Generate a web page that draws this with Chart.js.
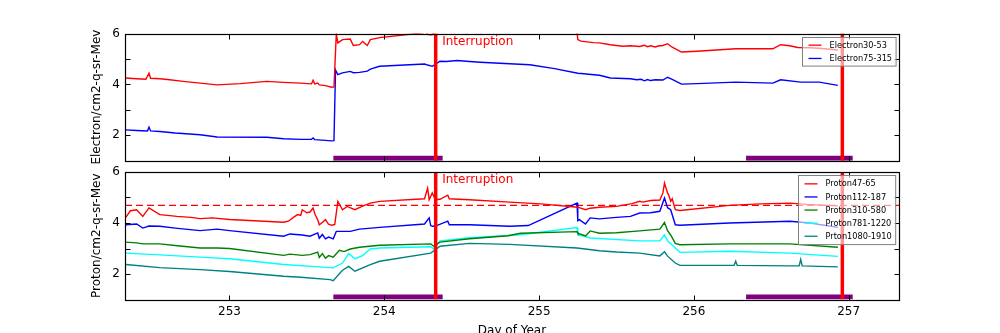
<!DOCTYPE html>
<html>
<head>
<meta charset="utf-8">
<script src="https://cdn.jsdelivr.net/npm/chart.js@4.4.1/dist/chart.umd.min.js"></script>
<style>
  html, body { margin: 0; padding: 0; background: #fff; overflow: hidden; }
  #topBox { position: absolute; left: 0; top: 0; width: 1000px; height: 166px; }
  #botBox { position: absolute; left: 0; top: 166px; width: 1000px; height: 180px; }
</style>
</head>
<body>
<div id="topBox"><canvas id="topChart"></canvas></div>
<div id="botBox"><canvas id="botChart"></canvas></div>
<script>
// axes
const X_MIN = 252.325, X_MAX = 257.325;
const xTicks = [253, 254, 255, 256, 257];
const yTicks = [1, 2, 3, 4, 5, 6];
const yLabels = [2, 4, 6];

// markers
const interruptDays = [254.332, 256.959];
const purpleSpans = [[253.671, 254.377], [256.337, 257.026]];
const purpleLevel = 1.1;
const protonLimit = 4.69;

// electron series [day, value]
const elec3053 = [
  [252.33,4.25],[252.40,4.22],[252.46,4.20],[252.48,4.44],[252.49,4.24],[252.55,4.22],[252.60,4.19],
  [252.70,4.12],[252.81,4.05],[252.92,3.98],[253.07,4.03],[253.24,4.12],[253.35,4.08],[253.46,4.05],
  [253.53,4.02],[253.54,4.16],[253.55,4.02],[253.57,4.05],[253.58,3.98],[253.62,3.95],[253.66,3.89],
  [253.675,3.90],[253.69,5.98],[253.70,5.63],[253.73,5.76],[253.78,5.78],[253.80,5.53],[253.84,5.56],
  [253.86,5.69],[253.89,5.53],[253.91,5.76],[253.97,5.84],[254.24,6.02],[254.27,6.06],[254.28,5.96],
  [254.31,5.95],[254.33,6.10],[254.40,6.40],[255.00,6.50],[255.24,6.40],[255.25,5.76],[255.27,5.70],
  [255.31,5.67],[255.35,5.64],[255.39,5.63],[255.46,5.56],[255.54,5.50],[255.59,5.52],[255.65,5.49],
  [255.68,5.54],[255.70,5.48],[255.72,5.52],[255.75,5.47],[255.77,5.51],[255.80,5.53],[255.83,5.60],
  [255.86,5.46],[255.92,5.27],[256.02,5.30],[256.27,5.40],[256.51,5.40],[256.56,5.56],[256.62,5.52],
  [256.67,5.45],[256.75,5.44],[256.81,5.42],[256.93,5.35]
];
const elec75315 = [
  [252.33,2.21],[252.40,2.19],[252.47,2.17],[252.48,2.32],[252.49,2.17],[252.55,2.15],[252.65,2.09],
  [252.81,2.02],[252.92,1.93],[253.24,1.92],[253.35,1.86],[253.46,1.84],[253.53,1.84],[253.54,1.89],
  [253.55,1.83],[253.62,1.80],[253.66,1.78],[253.675,1.79],[253.685,4.57],[253.70,4.38],[253.73,4.45],
  [253.78,4.51],[253.80,4.46],[253.84,4.47],[253.89,4.52],[253.91,4.60],[253.97,4.71],[254.26,4.80],
  [254.28,4.76],[254.31,4.71],[254.36,4.91],[254.40,4.90],[254.47,4.94],[254.55,4.90],[254.62,4.87],
  [254.81,4.81],[254.94,4.77],[255.10,4.62],[255.25,4.44],[255.29,4.42],[255.32,4.40],[255.39,4.36],
  [255.46,4.25],[255.59,4.22],[255.63,4.18],[255.66,4.20],[255.68,4.14],[255.70,4.19],[255.72,4.15],
  [255.75,4.18],[255.80,4.17],[255.83,4.28],[255.86,4.20],[255.92,4.01],[256.02,4.03],[256.27,4.09],
  [256.51,4.05],[256.56,4.18],[256.69,4.09],[256.81,4.09],[256.93,3.96]
];

// proton series [day, value]
const prot4765 = [
  [252.33,4.22],[252.36,4.48],[252.40,4.52],[252.44,4.26],[252.48,4.59],[252.55,4.33],[252.60,4.30],
  [252.66,4.26],[252.75,4.22],[252.81,4.17],[252.89,4.20],[253.00,4.14],[253.35,4.03],[253.38,4.07],
  [253.42,4.25],[253.44,4.33],[253.46,4.30],[253.47,4.52],[253.50,4.40],[253.52,4.43],[253.54,4.59],
  [253.555,4.30],[253.57,4.13],[253.58,3.93],[253.60,4.02],[253.62,4.13],[253.64,3.95],[253.66,3.91],
  [253.68,3.94],[253.70,4.85],[253.73,4.52],[253.76,4.65],[253.81,4.52],[253.86,4.66],[253.91,4.78],
  [253.97,4.85],[254.26,4.95],[254.28,5.37],[254.29,4.91],[254.31,5.18],[254.33,4.91],[254.36,4.93],
  [254.41,5.09],[254.42,4.95],[254.55,4.91],[254.81,4.82],[255.01,4.75],[255.25,4.62],[255.30,4.52],
  [255.33,4.58],[255.39,4.62],[255.50,4.65],[255.60,4.76],[255.65,4.85],[255.67,4.82],[255.72,4.88],
  [255.78,4.90],[255.80,5.18],[255.81,5.57],[255.83,5.18],[255.84,5.05],[255.85,4.85],[255.86,4.95],
  [255.88,4.52],[255.91,4.49],[256.23,4.69],[256.43,4.75],[256.62,4.78],[256.73,4.73],[256.93,4.67]
];
const prot112187 = [
  [252.33,3.93],[252.40,3.96],[252.44,3.80],[252.48,3.88],[252.55,3.87],[252.65,3.80],[252.81,3.70],
  [252.92,3.76],[253.00,3.70],[253.35,3.48],[253.39,3.57],[253.47,3.53],[253.52,3.48],[253.57,3.61],
  [253.58,3.40],[253.60,3.55],[253.62,3.38],[253.64,3.45],[253.67,3.38],[253.69,3.67],[253.78,3.67],
  [253.84,3.76],[253.97,3.83],[254.26,3.96],[254.29,4.20],[254.30,3.90],[254.31,3.87],[254.33,3.88],
  [254.41,4.07],[254.42,3.93],[254.55,3.93],[254.81,3.87],[254.93,3.90],[255.245,4.78],[255.25,4.09],
  [255.26,4.13],[255.30,3.96],[255.33,4.20],[255.39,4.16],[255.50,4.22],[255.59,4.26],[255.65,4.39],
  [255.72,4.40],[255.78,4.46],[255.81,4.98],[255.83,4.60],[255.85,4.52],[255.88,3.93],[255.91,3.91],
  [256.23,4.00],[256.62,4.07],[256.75,4.00],[256.93,3.83]
];
const prot310580 = [
  [252.33,3.25],[252.40,3.22],[252.44,3.18],[252.55,3.18],[252.65,3.12],[252.81,3.02],[252.92,3.02],
  [253.00,3.00],[253.35,2.73],[253.39,2.78],[253.47,2.73],[253.52,2.76],[253.57,2.86],[253.58,2.65],
  [253.60,2.80],[253.62,2.62],[253.64,2.72],[253.67,2.66],[253.71,2.93],[253.74,2.88],[253.78,2.98],
  [253.84,3.05],[253.97,3.13],[254.30,3.18],[254.32,3.09],[254.36,3.25],[254.55,3.38],[254.80,3.50],
  [254.88,3.60],[255.245,3.66],[255.25,3.60],[255.30,3.49],[255.33,3.69],[255.39,3.60],[255.50,3.62],
  [255.65,3.69],[255.78,3.76],[255.81,4.02],[255.83,3.70],[255.85,3.53],[255.88,3.20],[255.91,3.15],
  [256.23,3.18],[256.62,3.18],[256.93,3.05]
];
const prot7811220 = [
  [252.33,2.82],[252.55,2.75],[252.81,2.66],[253.00,2.60],[253.35,2.37],[253.67,2.24],[253.73,2.43],
  [253.77,2.80],[253.81,2.60],[253.86,2.72],[253.91,2.98],[253.97,3.02],[254.30,3.07],[254.32,2.99],
  [254.36,3.30],[254.55,3.42],[254.88,3.54],[255.245,3.82],[255.25,3.54],[255.33,3.41],[255.65,3.30],
  [255.78,3.30],[255.81,3.54],[255.83,3.30],[255.88,3.02],[255.91,2.85],[256.23,2.89],[256.62,2.82],
  [256.93,2.69]
];
const prot10801910 = [
  [252.33,2.37],[252.55,2.25],[252.81,2.17],[253.00,2.10],[253.35,1.91],[253.46,1.87],[253.65,1.78],
  [253.67,1.74],[253.73,2.15],[253.77,2.30],[253.81,2.11],[253.91,2.37],[253.97,2.50],[254.30,2.82],
  [254.33,2.95],[254.36,3.09],[254.55,3.20],[254.81,3.16],[255.245,3.02],[255.39,2.91],[255.50,2.86],
  [255.65,2.82],[255.78,2.71],[255.81,2.87],[255.83,2.70],[255.88,2.43],[255.91,2.34],[256.26,2.34],
  [256.27,2.50],[256.28,2.34],[256.62,2.32],[256.68,2.32],[256.69,2.57],[256.70,2.32],[256.93,2.28]
];

Chart.defaults.font.family = '"DejaVu Sans", sans-serif';
Chart.defaults.font.size = 12;
Chart.defaults.color = '#000';

const pts = arr => arr.map(p => ({ x: p[0], y: p[1] }));

function series(label, arr, color) {
  return { label, data: pts(arr), borderColor: color, borderWidth: 1.4, inLegend: true, order: 3 };
}

// extra marks shared by both panels
function markerSets(withLimit) {
  const bars = [], vlines = [];
  purpleSpans.forEach(s => {
    bars.push({ x: s[0], y: purpleLevel }, { x: s[1], y: purpleLevel }, { x: s[1], y: null });
  });
  interruptDays.forEach(d => {
    vlines.push({ x: d, y: 1 }, { x: d, y: 6 }, { x: d, y: null });
  });
  const sets = [
    { data: bars, borderColor: '#800080', borderWidth: 5, borderCapStyle: 'butt', order: 2 },
    { data: vlines, borderColor: '#ff0000', borderWidth: 3.5, borderCapStyle: 'butt', order: 1 }
  ];
  if (withLimit) {
    sets.push({ data: [{ x: X_MIN, y: protonLimit }, { x: X_MAX, y: protonLimit }],
      borderColor: '#ff0000', borderWidth: 1.2, borderDash: [7, 4], order: 4 });
  }
  return sets;
}

// frame with inward ticks, matplotlib style
const frame = {
  id: 'frame',
  afterDatasetsDraw(chart) {
    const { ctx, chartArea: a, scales: { x, y } } = chart;
    const l = Math.round(a.left) + 0.5, r = Math.round(a.right) + 0.5;
    const t = Math.round(a.top) + 0.5, b = Math.round(a.bottom) + 0.5;
    ctx.save();
    ctx.strokeStyle = '#000';
    ctx.lineWidth = 1;
    ctx.beginPath();
    xTicks.forEach(v => {
      const px = Math.round(x.getPixelForValue(v)) + 0.5;
      ctx.moveTo(px, t); ctx.lineTo(px, t + 5);
      ctx.moveTo(px, b); ctx.lineTo(px, b - 5);
    });
    yTicks.forEach(v => {
      const py = Math.round(y.getPixelForValue(v)) + 0.5;
      ctx.moveTo(l, py); ctx.lineTo(l + 5, py);
      ctx.moveTo(r, py); ctx.lineTo(r - 5, py);
    });
    ctx.stroke();
    ctx.lineWidth = 1.2;
    ctx.strokeRect(l, t, r - l, b - t);
    ctx.restore();
  }
};

// "Interruption" note next to the first red line
const note = {
  id: 'note',
  afterDatasetsDraw(chart) {
    const { ctx, chartArea: a, scales: { x } } = chart;
    ctx.save();
    ctx.font = '12px "DejaVu Sans"';
    ctx.fillStyle = '#ff0000';
    ctx.textBaseline = 'middle';
    ctx.fillText('Interruption', x.getPixelForValue(interruptDays[0]) + 6.5, a.top + 8);
    ctx.restore();
  }
};

// framed legend inside the axes, upper right
const boxLegend = {
  id: 'boxLegend',
  afterDraw(chart, args, opts) {
    const items = chart.data.datasets.filter(d => d.inLegend);
    const { ctx, chartArea: a } = chart;
    ctx.save();
    ctx.font = '8.2px "DejaVu Sans"';
    const textW = Math.max(...items.map(d => ctx.measureText(d.label).width));
    const w = 27 + textW + 4;
    const h = items.length * opts.rowH + 2 * opts.pad;
    const x0 = Math.round(a.right - 3.5 - w) + 0.5, y0 = Math.round(a.top + opts.top) + 0.5;
    ctx.fillStyle = 'rgba(255,255,255,0.6)';
    ctx.fillRect(x0, y0, w, h);
    ctx.strokeStyle = '#808080';
    ctx.lineWidth = 1;
    ctx.strokeRect(x0, y0, w, h);
    ctx.textBaseline = 'middle';
    items.forEach((d, i) => {
      const cy = y0 + opts.pad + opts.rowH * (i + 0.5);
      ctx.strokeStyle = d.borderColor;
      ctx.lineWidth = 1.3;
      ctx.beginPath();
      ctx.moveTo(x0 + 6, cy); ctx.lineTo(x0 + 19, cy);
      ctx.stroke();
      ctx.fillStyle = '#000';
      ctx.fillText(d.label, x0 + 27, cy + 0.5);
    });
    ctx.restore();
  }
};

function makeChart(id, datasets, cfg) {
  return new Chart(document.getElementById(id), {
    type: 'line',
    data: { datasets },
    options: {
      animation: false,
      responsive: true,
      maintainAspectRatio: false,
      devicePixelRatio: 1,
      layout: { padding: { top: cfg.padTop, right: 101, left: 0, bottom: 0 } },
      elements: { point: { radius: 0 }, line: { tension: 0 } },
      scales: {
        x: {
          type: 'linear', min: X_MIN, max: X_MAX,
          grid: { display: false, drawTicks: false }, border: { display: false },
          afterBuildTicks: s => { s.ticks = xTicks.map(v => ({ value: v })); },
          afterFit: s => { s.height = cfg.xHeight; s.paddingLeft = 0; s.paddingRight = 0; },
          ticks: { display: cfg.xLabels, padding: 5, maxRotation: 0, callback: v => String(v) },
          title: { display: cfg.xLabels, text: 'Day of Year', padding: { top: 0, bottom: 8 } }
        },
        y: {
          type: 'linear', min: 1, max: 6,
          grid: { display: false, drawTicks: false }, border: { display: false },
          afterBuildTicks: s => { s.ticks = yTicks.map(v => ({ value: v })); },
          afterFit: s => { s.width = 125; s.paddingTop = 0; s.paddingBottom = 0; },
          ticks: { padding: 5, callback: v => yLabels.includes(v) ? String(v) : '' },
          title: { display: true, text: cfg.yTitle, padding: { top: 90, bottom: 0 } }
        }
      },
      plugins: {
        legend: { display: false },
        tooltip: { enabled: false },
        boxLegend: cfg.legend
      }
    },
    plugins: [frame, note, boxLegend]
  });
}

makeChart('topChart', [
  series('Electron30-53', elec3053, '#ff0000'),
  series('Electron75-315', elec75315, '#0000ff'),
  ...markerSets(false)
], { padTop: 33.5, xHeight: 5.3, xLabels: false, yTitle: 'Electron/cm2-q-sr-Mev',
     legend: { top: 3.8, rowH: 13.3, pad: 1 } });

makeChart('botChart', [
  series('Proton47-65', prot4765, '#ff0000'),
  series('Proton112-187', prot112187, '#0000ff'),
  series('Proton310-580', prot310580, '#008000'),
  series('Proton781-1220', prot7811220, '#00ffff'),
  series('Prton1080-1910', prot10801910, '#008080'),
  ...markerSets(true)
], { padTop: 6, xHeight: 46.5, xLabels: true, yTitle: 'Proton/cm2-q-sr-Mev',
     legend: { top: 3, rowH: 13.1, pad: 1.8 } });
</script>
</body>
</html>
